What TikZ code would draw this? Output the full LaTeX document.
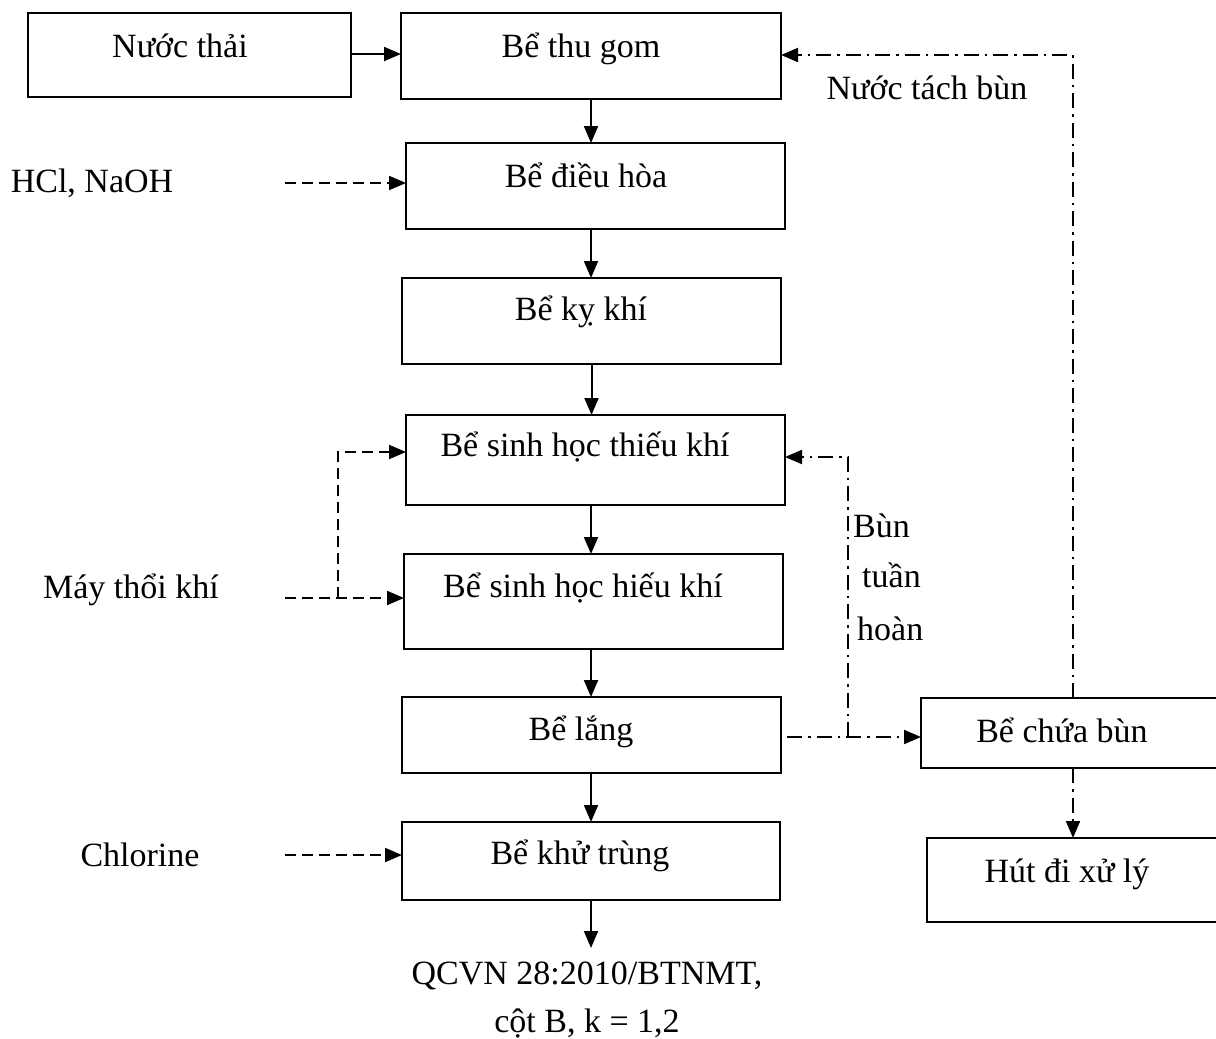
\documentclass[tikz,border=0pt]{standalone}
\usepackage{fontspec}
\setmainfont{Liberation Serif}
\usetikzlibrary{arrows.meta}
\begin{document}
\begin{tikzpicture}[x=1pt,y=-1pt,
  box/.style={draw,line width=2pt,inner sep=0pt,outer sep=0pt},
  txt/.style={font=\fontsize{34}{40}\selectfont,inner sep=0pt,anchor=base},
  flow/.style={line width=2pt,-{Triangle[length=17pt,width=14pt]}},
  dashflow/.style={flow,dash pattern=on 11pt off 6pt},
  dotflow/.style={flow,dash pattern=on 15pt off 6pt on 2.5pt off 6pt}]
\useasboundingbox (0,0) rectangle (1216,1039);
\clip (0,0) rectangle (1216,1039);
% boxes
\node[box,minimum width=323pt,minimum height=84pt] (nuocthai) at (189.5,55) {};
\node[box,minimum width=380pt,minimum height=86pt] (thugom) at (591,56) {};
\node[box,minimum width=379pt,minimum height=86pt] (dieuhoa) at (595.5,186) {};
\node[box,minimum width=379pt,minimum height=86pt] (kykhi) at (591.5,321) {};
\node[box,minimum width=379pt,minimum height=90pt] (thieukhi) at (595.5,460) {};
\node[box,minimum width=379pt,minimum height=95pt] (hieukhi) at (593.5,601.5) {};
\node[box,minimum width=379pt,minimum height=76pt] (lang) at (591.5,735) {};
\node[box,minimum width=378pt,minimum height=78pt] (khutrung) at (591,861) {};
\node[box,minimum width=319pt,minimum height=70pt] (chuabun) at (1080.5,733) {};
\node[box,minimum width=313pt,minimum height=84pt] (hutdi) at (1083.5,880) {};
% box texts
\node[txt] (tnuocthai) at (180,57) {Nước thải};
\node[txt] (tthugom) at (581,57) {Bể thu gom};
\node[txt] (tdieuhoa) at (586,187) {Bể điều hòa};
\node[txt] (tkykhi) at (581,320) {Bể kỵ khí};
\node[txt] (tthieukhi) at (585,456) {Bể sinh học thiếu khí};
\node[txt] (thieukhi2) at (583,597) {Bể sinh học hiếu khí};
\node[txt] (tlang) at (581,740) {Bể lắng};
\node[txt] (tkhutrung) at (580,864) {Bể khử trùng};
\node[txt] (tchuabun) at (1062,742) {Bể chứa bùn};
\node[txt] (thutdi) at (1067,882) {Hút đi xử lý};
% free texts
\node[txt] (hcl) at (92,192) {HCl, NaOH};
\node[txt] (may) at (131,598) {Máy thổi khí};
\node[txt] (chl) at (140,866) {Chlorine};
\node[txt] (qcvn) at (587,984) {QCVN 28:2010/BTNMT,};
\node[txt] (cot) at (587,1032) {cột B, k = 1,2};
\node[txt] (tach) at (927,99) {Nước tách bùn};
\node[txt,anchor=base west] (bun1) at (853,537) {Bùn};
\node[txt,anchor=base west] (bun2) at (862,587) {tuần};
\node[txt,anchor=base west] (bun3) at (857,640) {hoàn};
% coordinates
\coordinate (hclS) at (285,183);
\coordinate (mayS) at (285,598);
\coordinate (br) at (338,598);
\coordinate (brT) at (338,452);
\coordinate (chlS) at (285,855);
\coordinate (out) at (591,948);
\coordinate (lS) at (787,737);
\coordinate (jn) at (848,737);
\coordinate (jt) at (848,457);
\coordinate (rt) at (1073,55);
\coordinate (rb) at (1073,698);
% main flow
\draw[flow] (nuocthai.east |- 0,54) -- (thugom.west |- 0,54);
\draw[flow] (thugom.south) -- (thugom.south |- dieuhoa.north);
\draw[flow] (dieuhoa.south -| thugom.south) -- (kykhi.north -| thugom.south);
\draw[flow] (kykhi.south) -- (kykhi.south |- thieukhi.north);
\draw[flow] (thieukhi.south -| thugom.south) -- (hieukhi.north -| thugom.south);
\draw[flow] (hieukhi.south -| thugom.south) -- (lang.north -| thugom.south);
\draw[flow] (lang.south -| thugom.south) -- (khutrung.north -| thugom.south);
\draw[flow] (khutrung.south) -- (out);
% chemicals
\draw[dashflow] (hclS) -- (hclS -| dieuhoa.west);
\draw[dashflow] (mayS) -- (mayS -| hieukhi.west);
\draw[dashflow] (br) -- (brT) -- (brT -| thieukhi.west);
\draw[dashflow] (chlS) -- (chlS -| khutrung.west);
% sludge
\draw[dotflow] (lS) -- (lS -| chuabun.west);
\draw[dotflow] (jn) -- (jt) -- (jt -| thieukhi.east);
\draw[dotflow] (rb) -- (rt) -- (rt -| thugom.east);
\draw[dotflow] (chuabun.south -| rb) -- (hutdi.north -| rb);
\end{tikzpicture}
\end{document}
